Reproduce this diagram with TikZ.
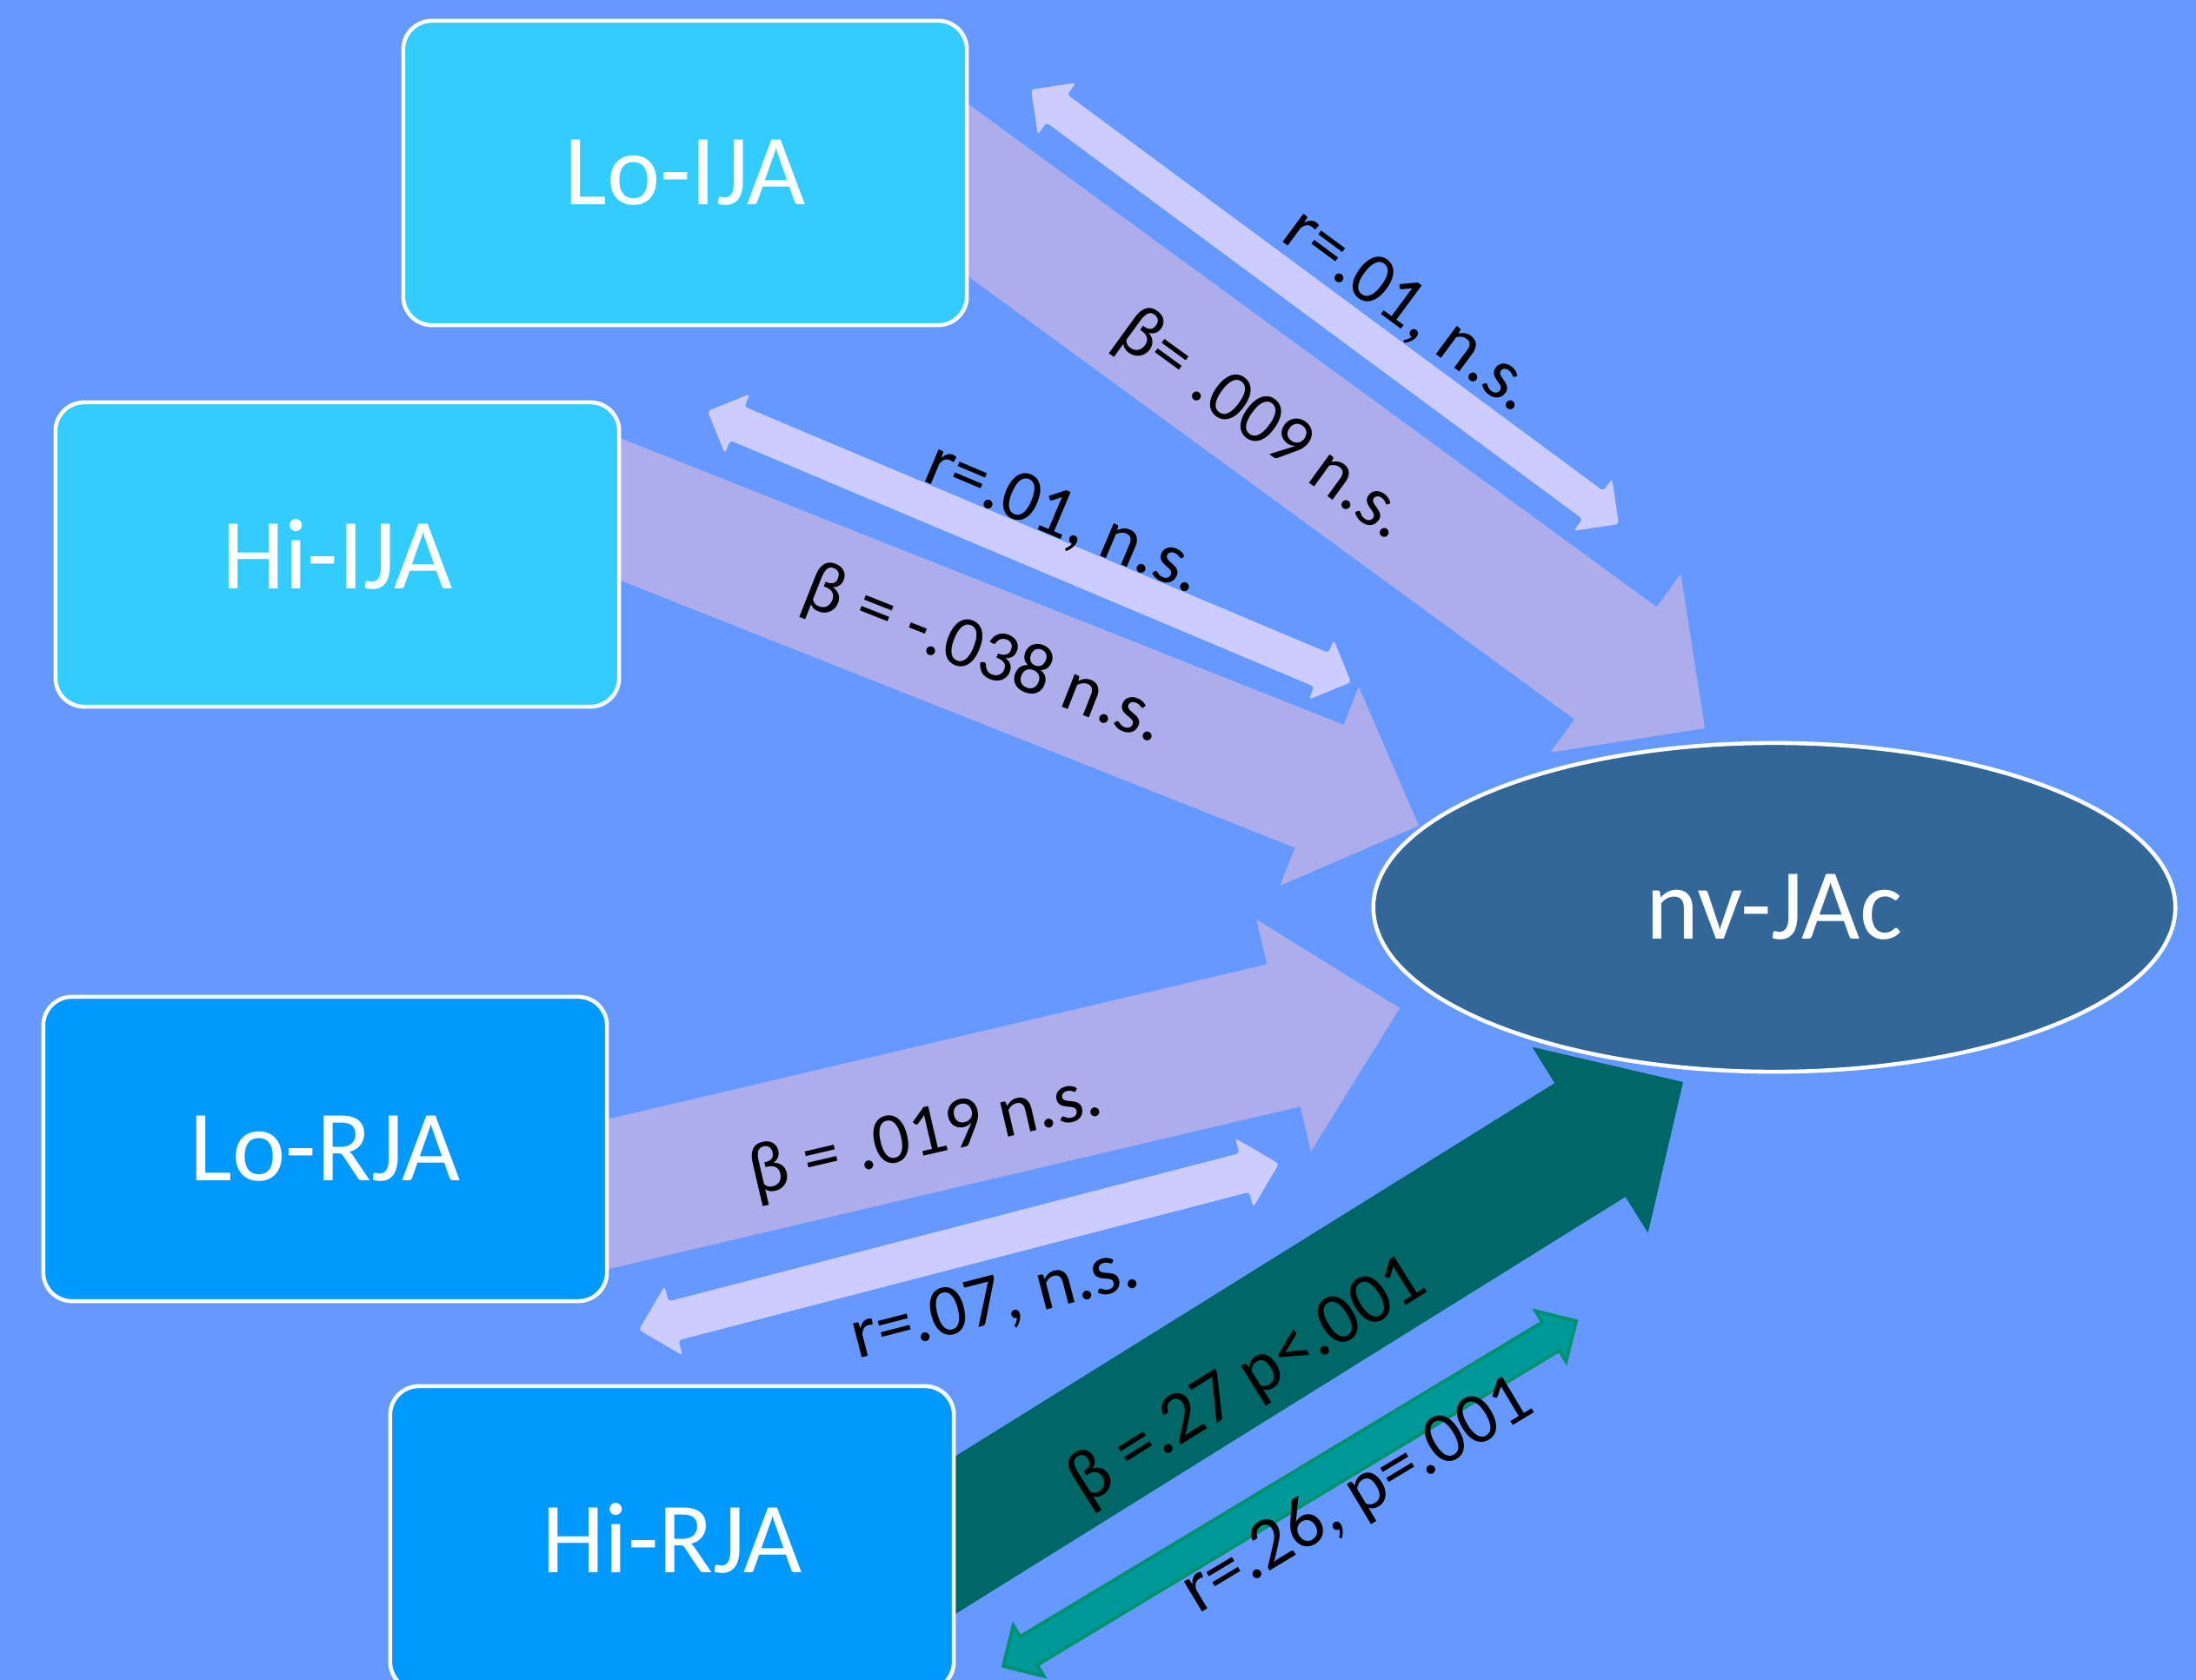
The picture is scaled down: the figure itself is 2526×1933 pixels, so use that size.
\documentclass[tikz,border=0pt]{standalone}
\usepackage{fontspec}
\setmainfont{Carlito}
\usetikzlibrary{
    calc,
    shapes.geometric
}
\definecolor{bgblue}{HTML}{6699FF}
\definecolor{ijablue}{HTML}{33CCFF}
\definecolor{rjablue}{HTML}{0099FF}
\definecolor{jacblue}{HTML}{336699}
\definecolor{pathns}{HTML}{ADADEB}
\definecolor{corrns}{HTML}{CCCCFF}
\definecolor{pathsig}{HTML}{006666}
\definecolor{corrsig}{HTML}{009999}
\definecolor{corredge}{HTML}{00916E}

\pgfdeclarelayer{back}
\pgfdeclarelayer{links}
\pgfsetlayers{back,links,main}

\tikzset{
  box/.style={
    draw=white,
    line width=1.3pt,
    rounded corners=0.33cm,
    minimum width=6.48cm,
    minimum height=3.5cm,
    text=white,
    font=\fontsize{33}{40}\selectfont
  },
  outcome/.style={
    ellipse,
    draw=white,
    line width=1.3pt,
    fill=jacblue,
    minimum width=9.22cm,
    minimum height=3.78cm,
    text=white,
    font=\fontsize{33}{40}\selectfont
  },
  coef/.style={
    text=black,
    inner sep=0pt,
    font=\fontsize{24}{29}\selectfont
  },
  widens/.style={fill=pathns},
  widesig/.style={fill=pathsig},
  thinns/.style={fill=corrns, rounded corners=1pt},
  thinsig/.style={fill=corrsig, draw=corredge, line width=1.1pt}
}

% block arrow: style, tail, tip, shaft half-width, head half-width
\newcommand{\patharrow}[5]{%
  \coordinate (hb) at ($(#3)!#5!(#2)$);
  \path[#1] ($(#2)!#4!90:(#3)$) -- ($(hb)!#4!90:(#3)$) -- ($(hb)!#5!90:(#3)$)
    -- (#3) -- ($(hb)!#5!-90:(#3)$) -- ($(hb)!#4!-90:(#3)$)
    -- ($(#2)!#4!-90:(#3)$) -- cycle;}
% two-headed arrow: style, end, end, shaft half-width, head half-width
\newcommand{\corrarrow}[5]{%
  \coordinate (hb1) at ($(#3)!#5!(#2)$);
  \coordinate (hb2) at ($(#2)!#5!(#3)$);
  \path[#1] (#3) -- ($(hb1)!#5!90:(#3)$) -- ($(hb1)!#4!90:(#3)$)
    -- ($(hb2)!#4!90:(#3)$) -- ($(hb2)!#5!90:(#3)$) -- (#2)
    -- ($(hb2)!#5!-90:(#3)$) -- ($(hb2)!#4!-90:(#3)$)
    -- ($(hb1)!#4!-90:(#3)$) -- ($(hb1)!#5!-90:(#3)$) -- cycle;}

\begin{document}
\begin{tikzpicture}[x=0.01cm,y=-0.01cm]
    \useasboundingbox (0,0) rectangle (2526,1933);
    \begin{pgfonlayer}{back}
        \fill[bgblue] (0,0) rectangle (2526,1933);
    \end{pgfonlayer}

    % Boxen
    \node[box, fill=ijablue] (loija) at (788,199) {Lo-IJA};
    \node[box, fill=ijablue] (hiija) at (388,638) {Hi-IJA};
    \node[box, fill=rjablue] (lorja) at (374,1322) {Lo-RJA};
    \node[box, fill=rjablue] (hirja) at (773,1770) {Hi-RJA};
    \node[outcome] (jac) at (2041,1044) {nv-JAc};

    % Pfeilspitzen
    \coordinate (tloija) at (1961,838);
    \coordinate (thiija) at (1632,950);
    \coordinate (tlorja) at (1610,1160);
    \coordinate (thirja) at (1936,1245);
    \coordinate (sloija) at ($(loija.east)+(-121,-68)$);
    \coordinate (shiija) at ($(hiija.east)+(-74,-81)$);
    \coordinate (slorja) at ($(lorja.east)+(-146,86)$);
    \coordinate (shirja) at ($(hirja.east)+(-127,75)$);
    \coordinate (c1a) at (1186,103);
    \coordinate (c1b) at (1862,603);
    \coordinate (c2a) at (814,473);
    \coordinate (c2b) at (1554,785);
    \coordinate (c3a) at (735,1530);
    \coordinate (c3b) at (1471,1339);
    \coordinate (c4a) at (1154,1917);
    \coordinate (c4b) at (1813,1520);

    \begin{pgfonlayer}{links}
        \patharrow{widens}{sloija}{tloija}{0.80cm}{1.27cm}
        \patharrow{widens}{shiija}{thiija}{0.76cm}{1.23cm}
        \patharrow{widens}{slorja}{tlorja}{0.84cm}{1.37cm}
        \patharrow{widesig}{shirja}{thirja}{0.77cm}{1.26cm}
        \corrarrow{thinns}{c1a}{c1b}{0.20cm}{0.37cm}
        \corrarrow{thinns}{c2a}{c2b}{0.21cm}{0.37cm}
        \corrarrow{thinns}{c3a}{c3b}{0.23cm}{0.41cm}
        \corrarrow{thinsig}{c4a}{c4b}{0.19cm}{0.34cm}
    \end{pgfonlayer}

    % Koeffizienten
    \node[coef, rotate=-36.5] (rloija) at (1621,358) {r=.01, n.s.};
    \node[coef, rotate=-36] (bloija) at (1452,490) {β= .009 n.s.};
    \node[coef, rotate=-22.9] (rhiija) at (1224,598) {r=.01, n.s.};
    \node[coef, rotate=-21.5] (bhiija) at (1132,755) {β = -.038 n.s.};
    \node[coef, rotate=13.1] (blorja) at (1065,1308) {β = .019 n.s.};
    \node[coef, rotate=14.5] (rlorja) at (1145,1500) {r=.07, n.s.};
    \node[coef, rotate=32] (bhirja) at (1435,1590) {β =.27 p<.001};
    \node[coef, rotate=31] (rhirja) at (1562,1722) {r=.26, p=.001};
\end{tikzpicture}
\end{document}
